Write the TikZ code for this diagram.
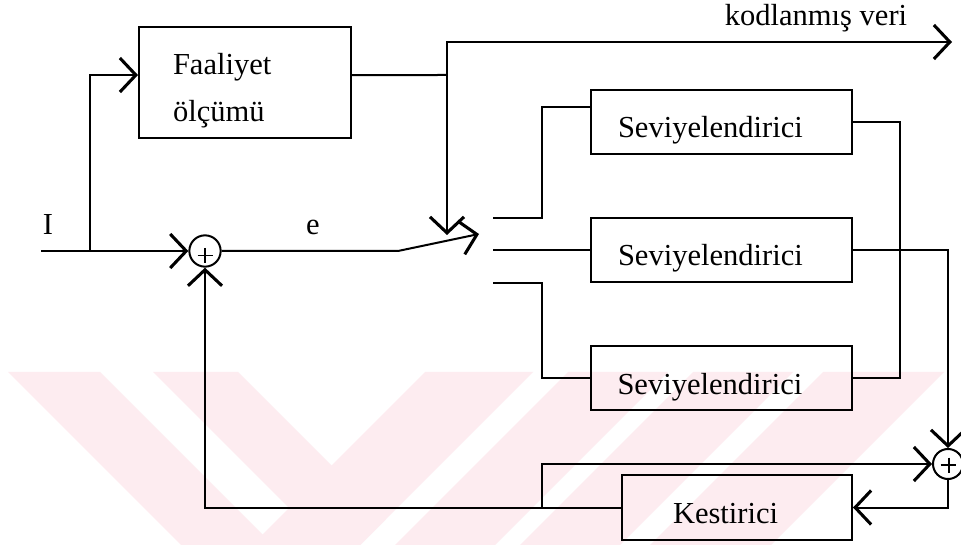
\documentclass[tikz,border=0pt]{standalone}
\usepackage{fontspec}
\setmainfont{Liberation Serif}
\usetikzlibrary{arrows.meta}
\definecolor{wmpink}{RGB}{253,236,240}
\begin{document}
\begin{tikzpicture}[x=0.75pt,y=-0.75pt,
  line width=1.5pt,
  every node/.style={font=\fontsize{22.9pt}{27pt}\selectfont},
  box/.style={draw, line width=1.5pt, inner ysep=0pt, text height=24pt, text depth=0pt, align=left},
  sumnode/.style={draw, circle, line width=1.5pt, inner sep=0pt},
  plussign/.style={line width=0.9pt},
  arr/.style={-{Straight Barb[length=12pt,width=25.5pt,line width=2.3pt]}},
  lbl/.style={inner sep=0pt}]

% page and background
\fill[white] (0,0) rectangle (961,545);
\useasboundingbox (0,0) rectangle (961,545);

% faint stripes in the lower band
\begin{scope}
  \clip (0,372) rectangle (961,545);
  \fill[wmpink] (8,372) -- (100,372) -- (328,600) -- (236,600) -- cycle;
  \fill[wmpink] (153,372) -- (238,372) -- (385.5,519.5) -- (343,562) -- cycle;
  \fill[wmpink] (425,372) -- (533,372) -- (305,600) -- (197,600) -- cycle;
  \fill[wmpink] (568,372) -- (668,372) -- (440,600) -- (340,600) -- cycle;
  \fill[wmpink] (693,372) -- (793,372) -- (565,600) -- (465,600) -- cycle;
  \fill[wmpink] (823,372) -- (944,372) -- (716,600) -- (595,600) -- cycle;
\end{scope}

% blocks
\node[draw, line width=1.5pt, minimum width=159pt, minimum height=83.25pt, inner sep=0pt] (fa) at (245,82.5) {};
\node[lbl, anchor=base west] (fa1) at (172,75) {Faaliyet};
\node[lbl, anchor=base west] (fa2) at (172,122) {ölçümü};

\node[box, text width=155.25pt, inner xsep=20.25pt, minimum height=48pt] (sev1) at (721.5,122) {Seviyelendirici};
\node[box, text width=155.25pt, inner xsep=20.25pt, minimum height=48pt] (sev2) at (721.5,250) {Seviyelendirici};
\node[box, text width=155.25pt, inner xsep=20.25pt, minimum height=48pt] (sev3) at (721,378.5) {Seviyelendirici};
\node[box, text width=96pt, inner xsep=38.25pt, minimum height=48.75pt] (kes) at (737,507.5) {Kestirici};

% summing junctions
\node[sumnode, minimum size=23.5pt] (s1) at (205,251) {};
\node[sumnode, minimum size=22.5pt] (s2) at (948,464) {};
\draw[plussign] ([shift={(-7.5,4.5)}]s1.center) -- ++(15,0);
\draw[plussign] ([shift={(0,-3)}]s1.center) -- ++(0,15);
\draw[plussign] ([shift={(-7.5,1)}]s2.center) -- ++(15,0);
\draw[plussign] ([shift={(1,-6.5)}]s2.center) -- ++(0,15);

% labels
\node[lbl, anchor=base] (lI) at (48,235) {I};
\node[lbl, anchor=base] (le) at (313,235) {e};
\node[lbl, anchor=base] (lkod) at (816,26) {kodlanmış veri};

% free ends and junctions
\coordinate (in) at (41,251);
\coordinate (br) at (90,251);
\coordinate (jn1) at (447,75);
\coordinate (kodEnd) at (952,42);
\coordinate (swCtl) at (447,235);
\coordinate (eBend) at (398,251);
\coordinate (swEnd) at (479,234);
\coordinate (c1) at (493,218);
\coordinate (c2) at (493,250);
\coordinate (c3) at (493,283);
\coordinate (jn3) at (542,507.5);

% input, activity measurement and coded output
\draw[arr] (in) -- (s1.west);
\draw[arr] (br) |- ([yshift=5.6pt]fa.west);
\draw ([yshift=5.6pt]fa.east) -- (jn1);
\draw[arr] (jn1) |- (kodEnd);
\draw[arr] (jn1) -- (swCtl);

% error signal and selector switch
\draw[arr] (s1.east) -- (eBend) -- (swEnd);
\draw (c1) -- ++(49,0) |- ([yshift=11.25pt]sev1.west);
\draw (c2) -- (sev2.west);
\draw (c3) -- ++(49,0) |- (sev3.west);

% quantizer outputs
\draw (sev1.east) -- ++(47,0) |- (sev3.east);
\draw[arr] (sev2.east) -| (s2.north);

% predictor loop
\draw[arr] (s2.south) |- (kes.east);
\draw[arr] (kes.west) -| (s1.south);
\draw[arr] (jn3) |- (s2.west);
\end{tikzpicture}
\end{document}
